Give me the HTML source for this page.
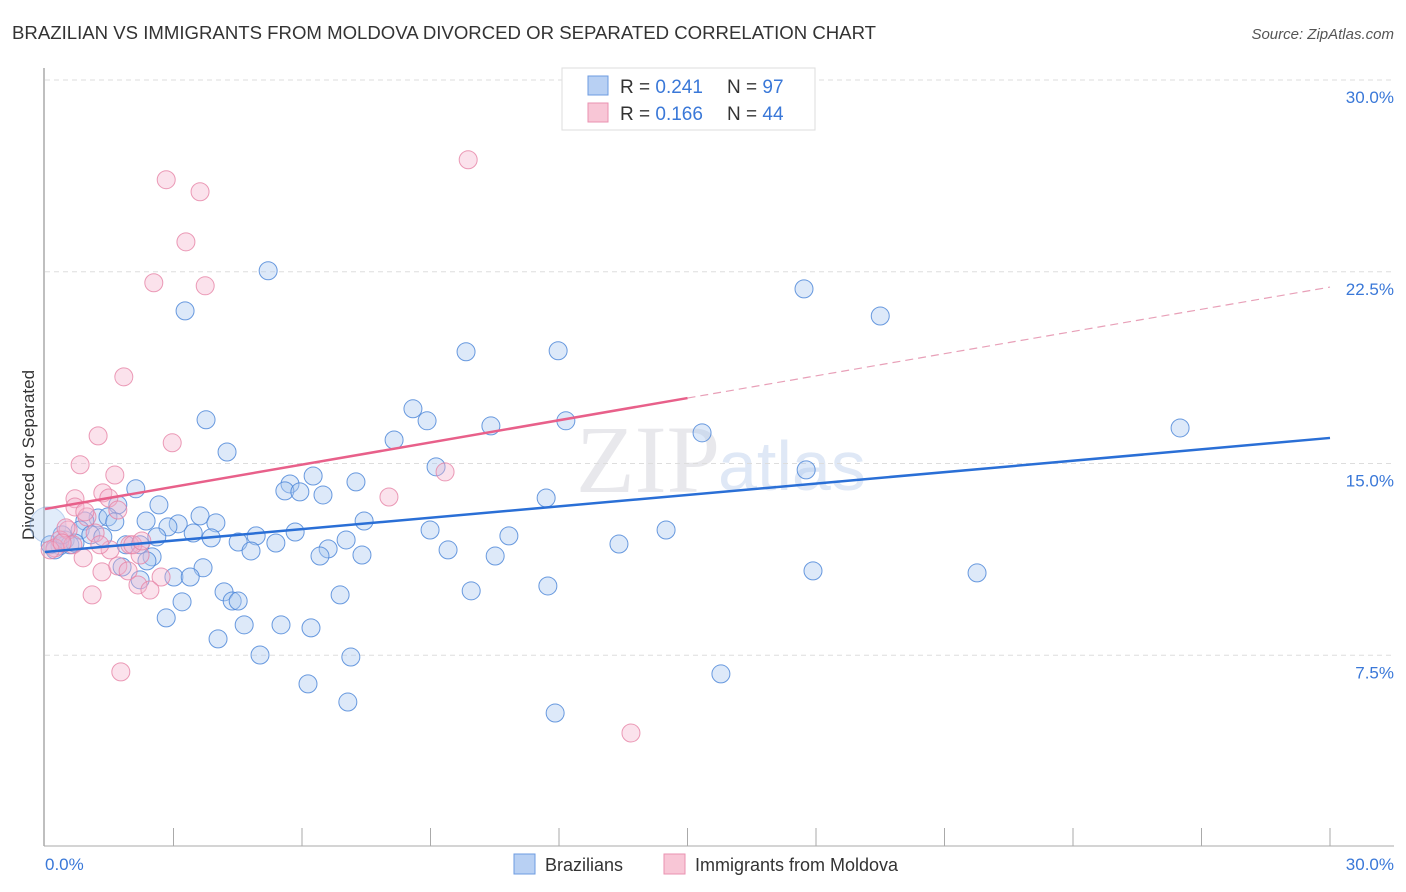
<!DOCTYPE html>
<html><head><meta charset="utf-8"><style>
body{margin:0;background:#fff;font-family:"Liberation Sans",sans-serif;}
svg{display:block}
</style></head><body>
<svg id="chart" width="1406" height="892" xmlns="http://www.w3.org/2000/svg">
<text x="12" y="39" font-size="18.6" fill="#333">BRAZILIAN VS IMMIGRANTS FROM MOLDOVA DIVORCED OR SEPARATED CORRELATION CHART</text>
<text x="1394" y="39" font-size="15" fill="#555" font-style="italic" text-anchor="end">Source: ZipAtlas.com</text>
<text x="720" y="492" font-size="96" fill="#e8e8ec" text-anchor="end" font-family="Liberation Serif,serif">ZIP</text>
<text x="718" y="490" font-size="70" fill="#dfe8f6">atlas</text>
<g id="grid"></g>
<line x1="44" y1="68" x2="44" y2="846" stroke="#aaa" stroke-width="1.5"/>
<line x1="44" y1="846" x2="1394" y2="846" stroke="#aaa" stroke-width="1"/>
<g id="xticks"></g>
<text transform="translate(34,455) rotate(-90)" font-size="17" fill="#333" text-anchor="middle">Divorced or Separated</text>
<text x="45" y="870" font-size="17" fill="#3a78d8">0.0%</text>
<text x="1394" y="870" font-size="17" fill="#3a78d8" text-anchor="end">30.0%</text>
<g id="pts"></g>
<g id="lines"></g>
<g>
<rect x="562" y="68" width="253" height="62" fill="#fff" stroke="#ddd"/>
<rect x="588" y="76" width="20" height="19" fill="#b8d0f3" stroke="#6d9be0"/>
<rect x="588" y="103" width="20" height="19" fill="#f8c6d6" stroke="#ea92b0"/>
<text x="620" y="93" font-size="19" fill="#333">R = <tspan fill="#3a78d8">0.241</tspan></text>
<text x="727" y="93" font-size="19" fill="#333">N = <tspan fill="#3a78d8">97</tspan></text>
<text x="620" y="120" font-size="19" fill="#333">R = <tspan fill="#3a78d8">0.166</tspan></text>
<text x="727" y="120" font-size="19" fill="#333">N = <tspan fill="#3a78d8">44</tspan></text>
</g>
<g>
<rect x="514" y="854" width="21" height="20" fill="#b8d0f3" stroke="#6d9be0"/>
<text x="545" y="871" font-size="18" fill="#333">Brazilians</text>
<rect x="664" y="854" width="21" height="20" fill="#f8c6d6" stroke="#ea92b0"/>
<text x="695" y="871" font-size="18" fill="#333">Immigrants from Moldova</text>
</g>
</svg>
<script>
const yTicks=[7.5,15,22.5,30];
const yTickLabels=["7.5%","15.0%","22.5%","30.0%"];
const xTicks=[3,6,9,12,15,18,21,24,27,30];
const blueX=[5.21,3.27,17.72,19.50,9.83,11.98,8.59,8.92,3.76,10.41,8.15,12.16,15.34,26.50,4.25,9.13,17.77,6.26,5.72,5.60,5.95,6.49,7.26,2.12,11.70,2.66,1.70,3.62,2.36,3.11,2.87,3.99,3.46,1.24,1.47,1.63,0.93,0.82,1.07,1.35,1.89,2.22,2.61,3.88,4.93,5.84,4.51,5.39,4.81,7.45,8.99,10.83,7.03,6.61,6.42,7.40,9.41,10.51,13.40,14.50,2.50,2.38,1.80,2.22,3.01,3.69,3.39,4.18,4.37,4.51,3.20,6.89,9.95,11.74,2.83,4.65,5.51,6.21,4.04,5.02,7.14,6.14,7.07,11.91,15.78,17.93,21.76,0.35,0.23,0.12,0.47,0.58,0.70,0.40,0.07];
const blueY=[22.54,20.97,21.83,20.77,19.37,19.41,17.14,16.67,16.71,16.47,15.92,16.67,16.20,16.39,15.45,14.87,14.75,14.51,14.20,13.93,13.89,13.77,14.28,14.01,13.65,13.38,13.38,12.95,12.75,12.64,12.52,12.68,12.28,12.87,12.91,12.72,12.75,12.40,12.21,12.13,11.82,11.82,12.13,12.09,12.17,12.32,11.93,11.89,11.58,12.75,12.40,12.17,12.01,11.66,11.38,11.42,11.62,11.38,11.85,12.40,11.35,11.19,10.95,10.45,10.56,10.92,10.56,9.98,9.62,9.62,9.59,9.86,10.02,10.21,8.96,8.69,8.69,8.57,8.14,7.51,7.43,6.38,5.67,5.24,6.77,10.80,10.72,11.78,11.62,11.82,12.01,11.82,11.89,12.21,12.60];
const pinkX=[9.88,2.83,3.62,3.29,2.54,3.74,1.84,1.24,2.97,0.82,1.63,1.35,0.70,1.49,8.03,9.34,0.70,0.98,0.54,1.17,0.35,0.65,0.89,1.98,2.22,2.05,1.33,1.70,1.94,2.71,2.17,2.45,1.10,1.77,13.68,0.23,0.12,0.49,1.52,1.28,2.26,1.70,0.93,0.40];
const pinkY=[26.88,26.10,25.63,23.67,22.07,21.95,18.39,16.08,15.81,14.95,14.55,13.85,13.62,13.65,13.69,14.67,13.30,12.91,12.40,12.28,12.01,11.82,11.31,11.82,11.42,11.82,10.76,10.99,10.80,10.56,10.25,10.05,9.86,6.85,4.46,11.70,11.62,12.48,11.62,11.82,11.97,13.18,13.11,11.89];
const blueTrend=[11.54,16.0];
const pinkTrend=[13.22,21.9];
const pinkSolidEnd=15;
const NS="http://www.w3.org/2000/svg";
const X=v=>45+v*1285/30, Y=v=>847-v*767/30;
function mk(t,a,p){const e=document.createElementNS(NS,t);for(const k in a)e.setAttribute(k,a[k]);document.getElementById(p).appendChild(e);return e;}
yTicks.forEach((t,i)=>{
 const l=mk('line',{x1:45,x2:1394,y1:Y(t),y2:Y(t),stroke:'#ddd','stroke-dasharray':'5,4'},'grid');
 
 
 const tx=mk('text',{x:1394,y:Y(t)+23,'font-size':17,fill:'#3a78d8','text-anchor':'end'},'grid');
 tx.textContent=yTickLabels[i];
 
 
});
xTicks.forEach(t=>{
 const l=mk('line',{x1:X(t),x2:X(t),y1:828,y2:846,stroke:'#aaa'},'xticks');
 
 
});
blueX.forEach((v,i)=>{
 const big=i==blueX.length-1;
 const c=mk('circle',{cx:X(v),cy:Y(blueY[i]),r:big?18:9,fill:big?'rgba(170,200,240,0.35)':'rgba(170,200,240,0.4)',stroke:big?'rgba(91,143,217,0.35)':'rgba(70,130,215,0.8)','stroke-width':1},'pts');
 
 
});
pinkX.forEach((v,i)=>{
 const c=mk('circle',{cx:X(v),cy:Y(pinkY[i]),r:9,fill:'rgba(245,180,205,0.38)',stroke:'rgba(230,130,165,0.8)','stroke-width':1},'pts');
 
 
});
const bl=mk('line',{x1:X(0),y1:Y(blueTrend[0]),x2:X(30),y2:Y(blueTrend[1]),stroke:'#2a6fd6','stroke-width':2.5},'lines');


const pm=pinkTrend[0]+(pinkTrend[1]-pinkTrend[0])*pinkSolidEnd/30;
const pl=mk('line',{x1:X(0),y1:Y(pinkTrend[0]),x2:X(pinkSolidEnd),y2:Y(pm),stroke:'#e8608a','stroke-width':2.5},'lines');


const pd=mk('line',{x1:X(pinkSolidEnd),y1:Y(pm),x2:X(30),y2:Y(pinkTrend[1]),stroke:'#e8a0b8','stroke-width':1.2,'stroke-dasharray':'8,5'},'lines');


</script>
</body></html>
